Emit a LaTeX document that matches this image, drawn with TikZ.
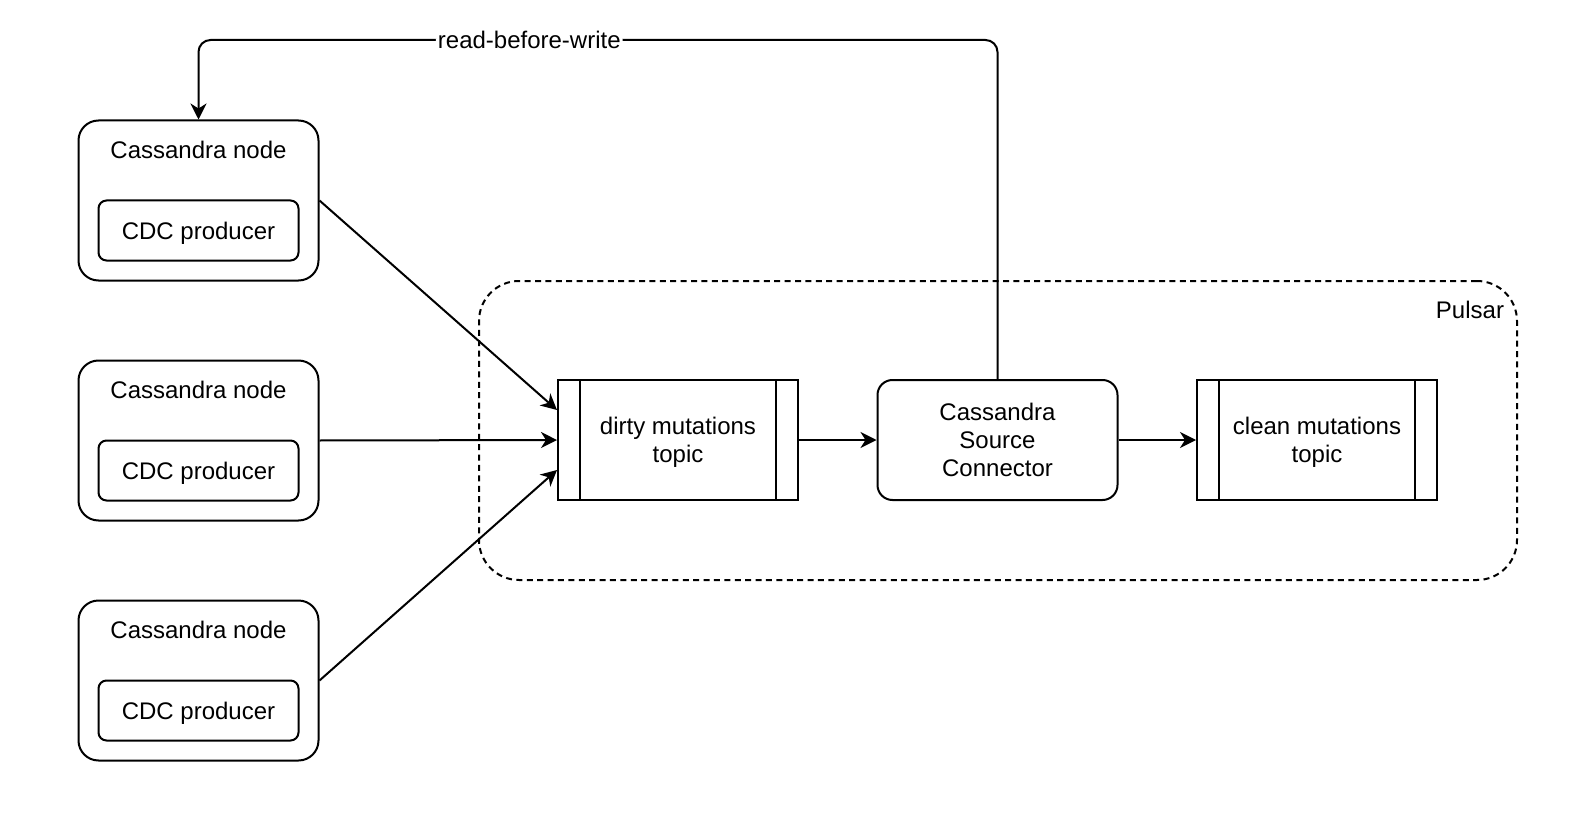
\documentclass[tikz,border=0pt]{standalone}
\usepackage{fontspec}
\setmainfont{Liberation Sans}
\usetikzlibrary{calc, arrows.meta, positioning}
\tikzstyle{cnode}=[draw, rounded corners=10pt, minimum width=120pt,
minimum height=80pt, inner sep=0pt]
\tikzstyle{ctitle}=[inner sep=0pt]
\tikzstyle{producer}=[draw, rounded corners=4pt, minimum width=100pt,
minimum height=30pt, inner sep=0pt, text depth=0pt]
\tikzstyle{topic}=[draw, minimum width=120pt, minimum height=60pt,
align=center, inner sep=0pt, text depth=0pt]
\tikzstyle{connector}=[draw, rounded corners=7.5pt, minimum width=120pt,
minimum height=60pt, align=center, inner sep=0pt, text depth=0pt]
\tikzstyle{pulsar}=[draw, dashed, dash pattern=on 3pt off 2.2pt,
rounded corners=20pt, minimum width=519pt, minimum height=149.5pt]
\tikzstyle{arrow}=[-{Stealth[length=8pt, width=8pt, inset=2.5pt]}]
\tikzstyle{edgelabel}=[fill=white, inner sep=1pt]

\begin{document}
\begin{tikzpicture}[x=0.5pt, y=-0.5pt, line width=1pt,
font=\fontsize{12}{14}\selectfont]
\useasboundingbox (0, 0) rectangle (1570, 824);
\draw (998, 430.5) node [pulsar] (pulsar) {};
\draw (1505, 310) node [ctitle, anchor=east] (plabel) {Pulsar};
% cassandra nodes
\draw (198.5, 200.5) node [cnode] (c1) {};
\draw (198.5, 150) node [ctitle] (t1) {Cassandra node};
\draw (198.5, 230.5) node [producer] (p1) {CDC producer};
\draw (198.5, 440.5) node [cnode] (c2) {};
\draw (198.5, 390) node [ctitle] (t2) {Cassandra node};
\draw (198.5, 470.5) node [producer] (p2) {CDC producer};
\draw (198.5, 680.5) node [cnode] (c3) {};
\draw (198.5, 630) node [ctitle] (t3) {Cassandra node};
\draw (198.5, 710.5) node [producer] (p3) {CDC producer};
% topics and connector
\draw (678, 440) node [topic] (dirty) {dirty mutations\\topic};
\draw ($(dirty.north west)+(23, 0)$) -- ($(dirty.south west)+(23, 0)$);
\draw ($(dirty.north east)+(-23, 0)$) -- ($(dirty.south east)+(-23, 0)$);
\draw (997.5, 440) node [connector] (conn) {Cassandra\\Source\\Connector};
\draw (1317, 440) node [topic] (clean) {clean mutations\\topic};
\draw ($(clean.north west)+(23, 0)$) -- ($(clean.south west)+(23, 0)$);
\draw ($(clean.north east)+(-23, 0)$) -- ($(clean.south east)+(-23, 0)$);
% edges
\draw [arrow] (c1.east) -- ($(dirty.west)+(0, -30)$);
\draw [arrow] (c2.east) -- (dirty.west);
\draw [arrow] (c3.east) -- ($(dirty.west)+(0, 30)$);
\draw [arrow] (dirty) -- (conn);
\draw [arrow] (conn) -- (clean);
\draw [arrow, rounded corners=6pt] (conn.north) -- ++(0, -339)
  -| node [edgelabel, pos=0.293] (rbw) {read-before-write} (c1.north);
\end{tikzpicture}
\end{document}
